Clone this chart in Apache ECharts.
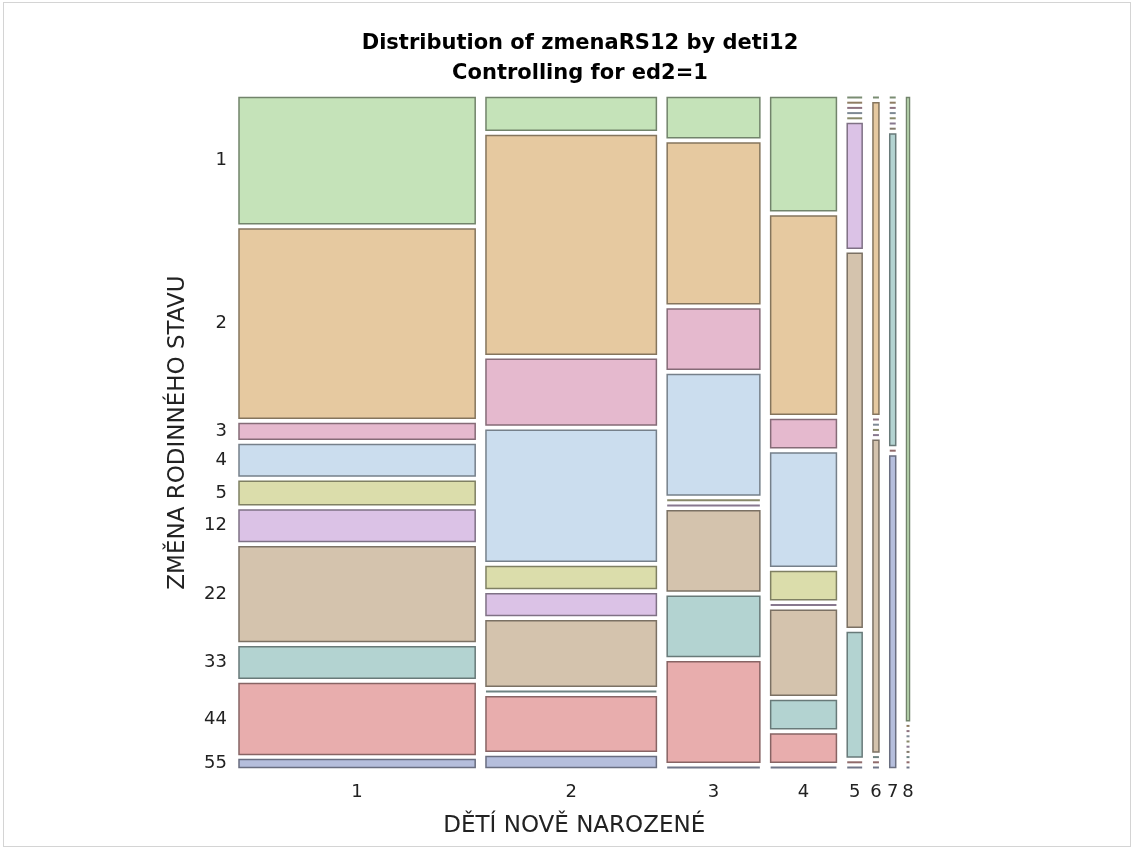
<!DOCTYPE html>
<html>
<head>
<meta charset="utf-8">
<script src="https://cdn.jsdelivr.net/npm/echarts@6/dist/echarts.min.js"></script>
<style>
html,body{margin:0;padding:0;background:#fff;}
#frame{position:absolute;left:3px;top:2px;width:1128px;height:845px;border:1px solid #d4d4d4;box-sizing:border-box;}
#chart{position:absolute;left:0;top:0;width:1135px;height:850px;}
</style>
</head>
<body>
<div id="frame"></div>
<div id="chart"></div>
<script>
// Categories
const detiCats = ['1', '2', '3', '4', '5', '6', '7', '8'];
const zmenaCats = ['1', '2', '3', '4', '5', '12', '22', '33', '44', '55'];

// Counts of zmenaRS12 (in zmenaCats order) for each deti12 value
const deti1 = [16, 24, 2, 4, 3, 4, 12, 4, 9, 1];
const deti2 = [3, 20, 6, 12, 2, 2, 6, 0, 5, 1];
const deti3 = [2, 8, 3, 6, 0, 0, 4, 3, 5, 0];
const deti4 = [4, 7, 1, 4, 1, 0, 3, 1, 1, 0];
const deti5 = [0, 0, 0, 0, 0, 1, 3, 1, 0, 0];
const deti6 = [0, 1, 0, 0, 0, 0, 1, 0, 0, 0];
const deti7 = [0, 0, 0, 0, 0, 0, 0, 1, 0, 1];
const deti8 = [1, 0, 0, 0, 0, 0, 0, 0, 0, 0];

const counts = [deti1, deti2, deti3, deti4, deti5, deti6, deti7, deti8];

const fills = ['#C5E3B9', '#E6C9A0', '#E5B9CE', '#CBDDEE', '#DBDDAB', '#DBC2E6', '#D4C3AD', '#B3D3D1', '#E8ADAD', '#B5BEDC'];

function shade(hex, f) {
  const n = parseInt(hex.slice(1), 16);
  const r = Math.round(((n >> 16) & 255) * f), g = Math.round(((n >> 8) & 255) * f), b = Math.round((n & 255) * f);
  return 'rgb(' + r + ',' + g + ',' + b + ')';
}

// layout in axis units (0..1 both ways); gaps are fractions of the axis extent
const GX = 0.0161, GY = 0.00776;
const colTotals = counts.map(c => c.reduce((a, b) => a + b, 0));
const grand = colTotals.reduce((a, b) => a + b, 0);
const availX = 1 - GX * (detiCats.length - 1);
const availY = 1 - GY * (zmenaCats.length - 1);

const cells = [];
const colCenters = [];
let x = 0;
counts.forEach((col, ci) => {
  const w = colTotals[ci] / grand * availX;
  colCenters.push(x + w / 2);
  let y = 0;
  col.forEach((v, ri) => {
    const h = v / colTotals[ci] * availY;
    cells.push([x, x + w, y, y + h, ci, ri, v]);
    y += h + GY;
  });
  x += w + GX;
});
const rowCenters = cells.filter(c => c[4] === 0).map(c => (c[2] + c[3]) / 2);

function nearest(arr, v) {
  let best = 0, bd = Infinity;
  arr.forEach((a, i) => { const d = Math.abs(a - v); if (d < bd) { bd = d; best = i; } });
  return best;
}

const chart = echarts.init(document.getElementById('chart'), null, {renderer: 'canvas'});
chart.setOption({
  animation: false,
  title: {
    text: 'Distribution of zmenaRS12 by deti12\nControlling for ed2=1',
    left: 575, top: 24, textAlign: 'center',
    textStyle: {fontFamily: 'DejaVu Sans', fontWeight: 'bold', fontSize: 21, color: '#000', lineHeight: 30}
  },
  grid: {left: 239, top: 97.5, width: 670.5, height: 670},
  xAxis: {
    type: 'value', min: 0, max: 1,
    name: 'DĚTÍ NOVĚ NAROZENÉ', nameLocation: 'middle', nameGap: 47,
    nameTextStyle: {fontFamily: 'DejaVu Sans', fontSize: 23, color: '#222'},
    axisLine: {show: false}, axisTick: {show: false}, splitLine: {show: false},
    axisLabel: {
      customValues: colCenters, margin: 16,
      fontFamily: 'DejaVu Sans', fontSize: 18, color: '#222',
      formatter: v => detiCats[nearest(colCenters, v)]
    }
  },
  yAxis: {
    type: 'value', min: 0, max: 1, inverse: true,
    name: 'ZMĚNA RODINNÉHO STAVU', nameLocation: 'middle', nameGap: 49,
    nameTextStyle: {fontFamily: 'DejaVu Sans', fontSize: 23, color: '#222'},
    axisLine: {show: false}, axisTick: {show: false}, splitLine: {show: false},
    axisLabel: {
      customValues: rowCenters, margin: 12,
      fontFamily: 'DejaVu Sans', fontSize: 18, color: '#222',
      formatter: v => zmenaCats[nearest(rowCenters, v)]
    }
  },
  series: [{
    type: 'custom',
    data: cells,
    encode: {x: [0, 1], y: [2, 3]},
    renderItem: function (params, api) {
      const p0 = api.coord([api.value(0), api.value(2)]);
      const p1 = api.coord([api.value(1), api.value(3)]);
      const ri = api.value(5);
      const v = api.value(6);
      const fill = fills[ri];
      if (v === 0) {
        return {
          type: 'line',
          shape: {x1: p0[0], y1: p0[1], x2: p1[0], y2: p0[1]},
          style: {stroke: shade(fill, 0.62), lineWidth: 2}
        };
      }
      return {
        type: 'rect',
        shape: {x: p0[0], y: p0[1], width: p1[0] - p0[0], height: p1[1] - p0[1]},
        style: {fill: fill, stroke: shade(fill, 0.58), lineWidth: 1.5}
      };
    }
  }]
});
</script>
</body>
</html>
